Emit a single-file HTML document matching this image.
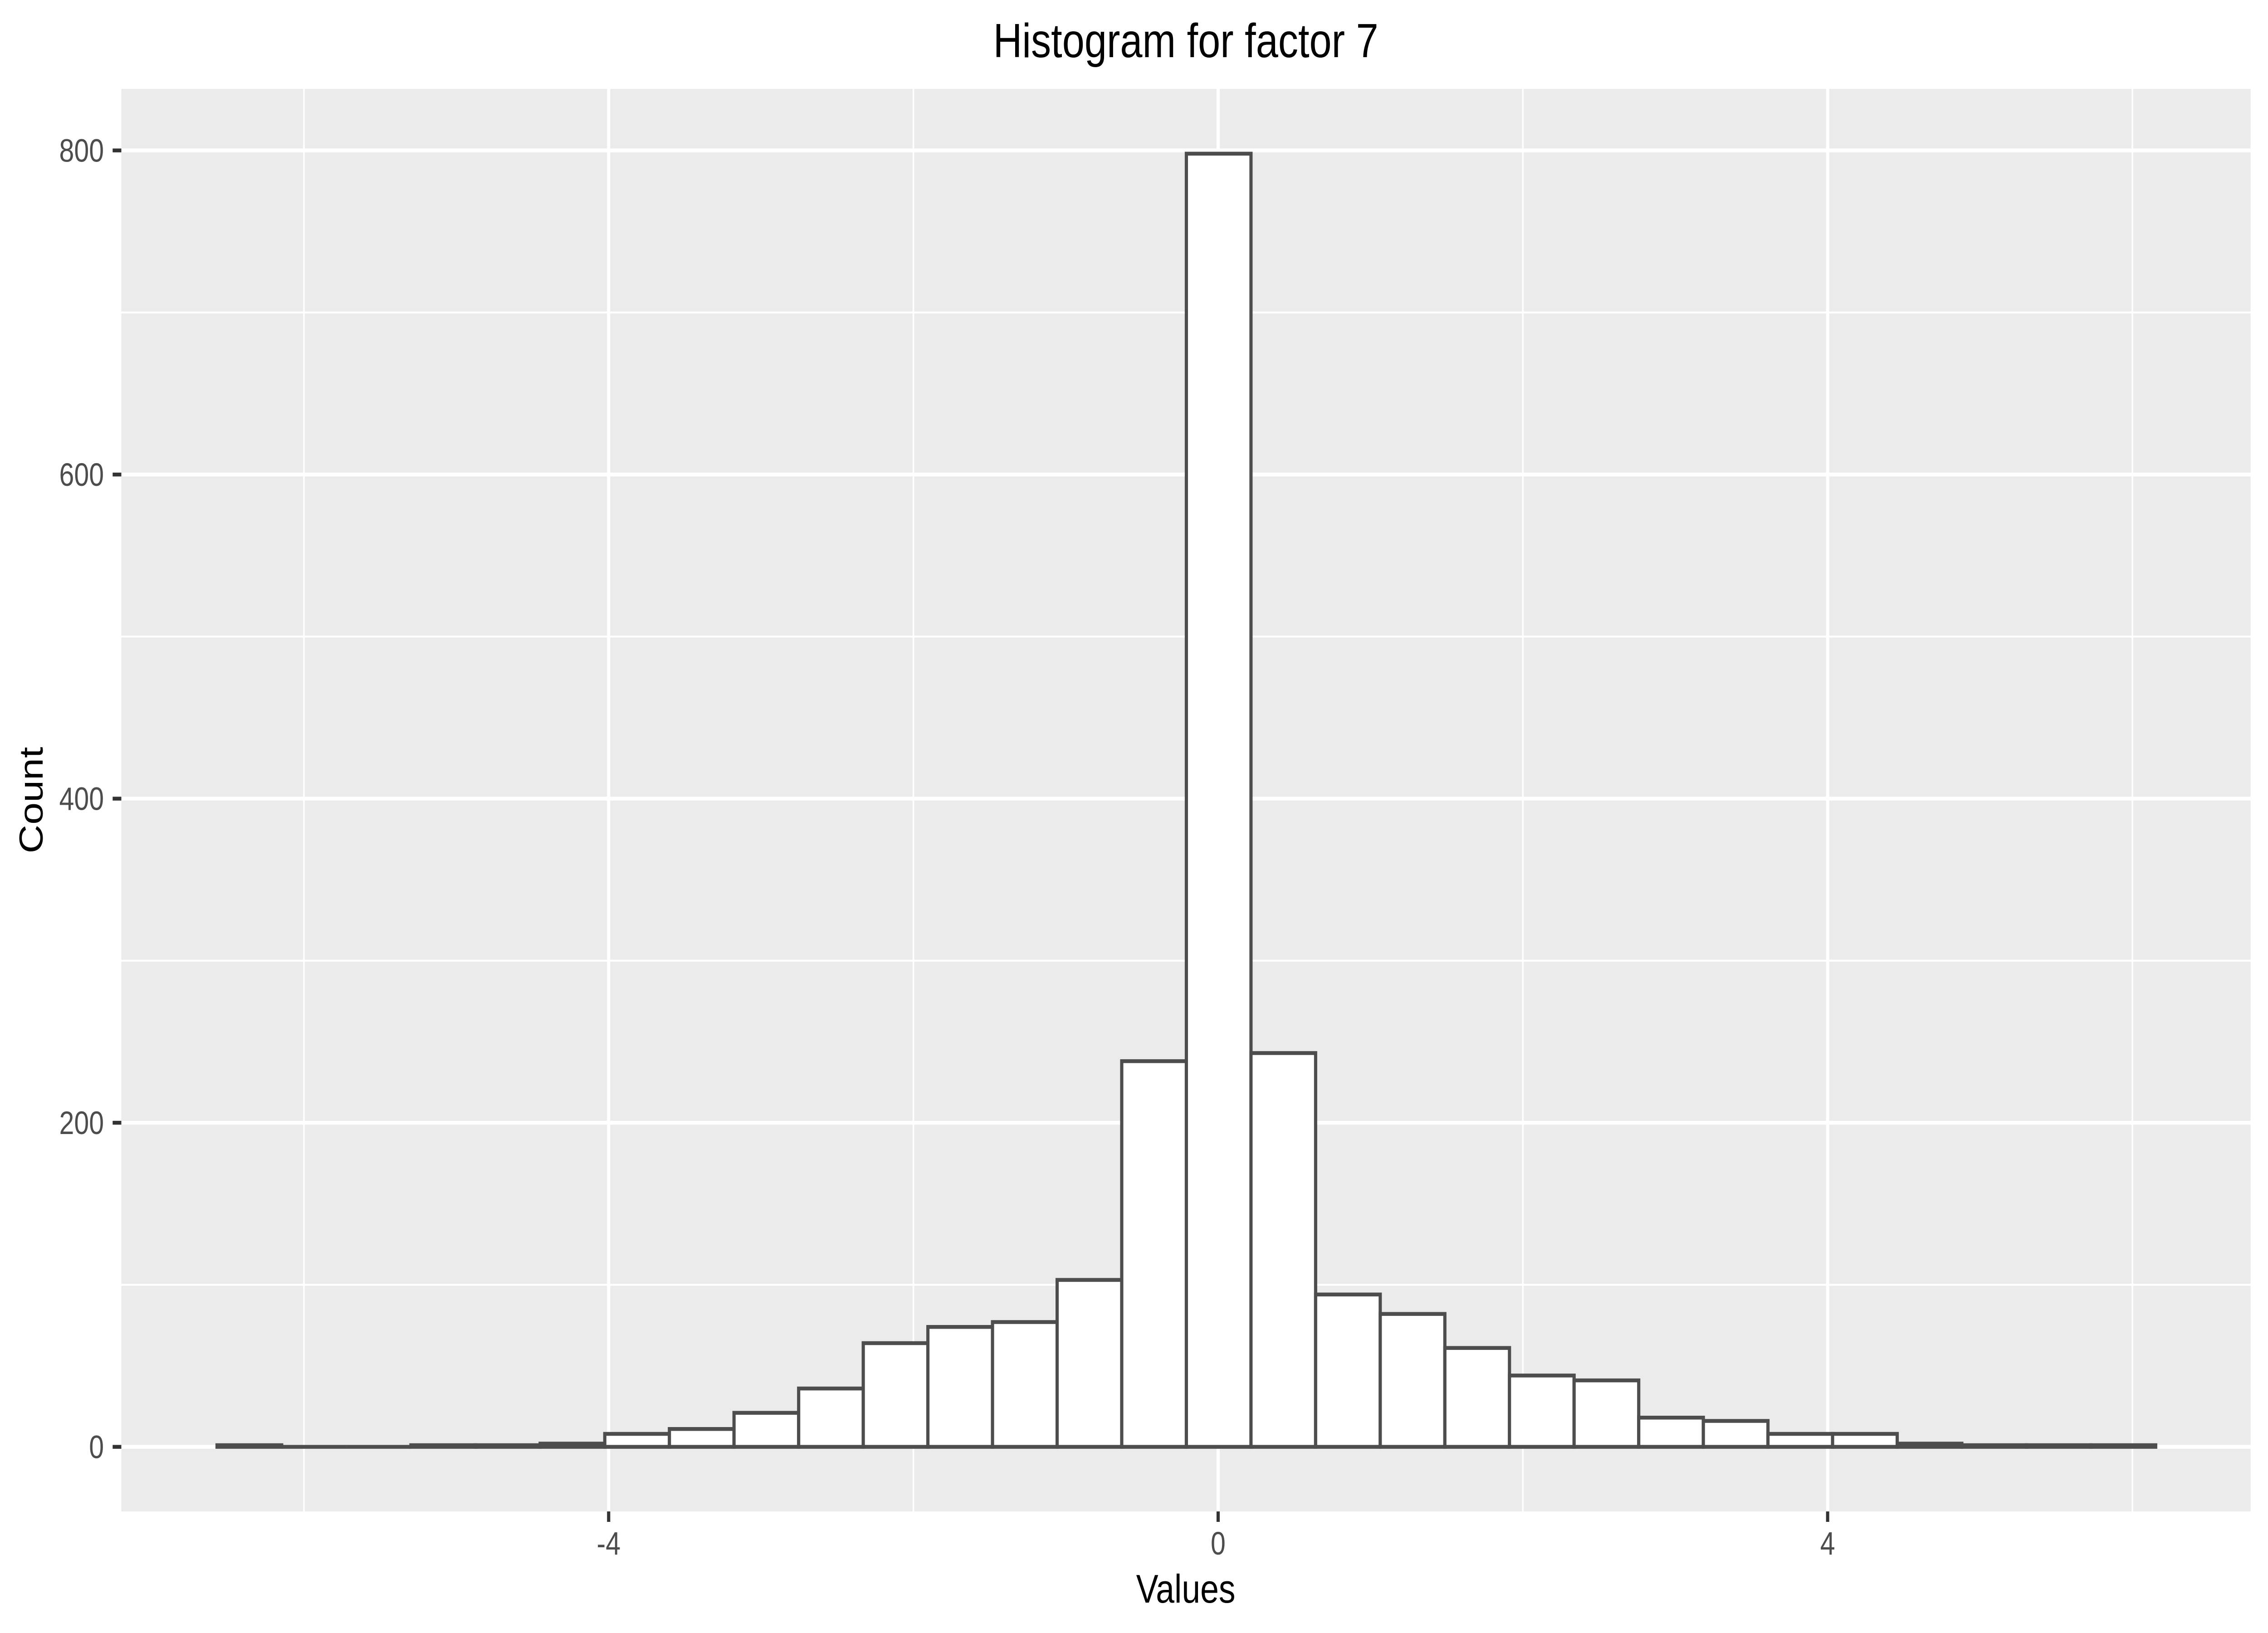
<!DOCTYPE html>
<html><head><meta charset="utf-8"><style>
html,body{margin:0;padding:0;background:#fff;overflow:hidden;width:100%;height:100%;}
svg{display:block;position:fixed;left:0;top:0;width:100vw;height:100vh;font-family:"Liberation Sans",Arial,sans-serif;}
</style></head><body>
<svg id="chart" viewBox="0 0 6000 3600" preserveAspectRatio="none" xmlns="http://www.w3.org/2000/svg">
<rect x="0" y="0" width="6000" height="3600" fill="#ffffff"/>
<rect x="321" y="196" width="5633" height="3136" fill="#ebebeb"/>
<g id="grid"></g>
<g id="bars"></g>
<g id="axes"></g>
<text x="3137" y="126" font-size="106" text-anchor="middle" fill="#000">Histogram for factor 7</text>
<text x="3137" y="3533" font-size="88" text-anchor="middle" fill="#000">Values</text>
<text x="113" y="1764" font-size="88" text-anchor="middle" fill="#000" transform="rotate(-90 113 1764)">Count</text>
</svg>
<script>
const binStart = -6.57;
const binWidth = 0.4241;
const counts = [1,0,0,1,1,2,8,11,21,36,64,74,77,103,238,798,243,94,82,61,44,41,18,16,8,8,2,1,1,1];
const xTicks = [-4,0,4];
const xTickLabels = ["-4","0","4"];
const xMinor = [-6,-2,2,6];
const yTicks = [0,200,400,600,800];
const yTickLabels = ["0","200","400","600","800"];
const yMinor = [100,300,500,700];

const PL=321, PR=5954, PT=196, PB=3332;
function xs(v){ return 3222.6 + v*403.1; }
function ys(v){ return 3189.6 - v*3.5725; }
const NS="http://www.w3.org/2000/svg";
function mk(tag, attrs, parent){
  const e=document.createElementNS(NS,tag);
  for(const k in attrs) e.setAttribute(k,attrs[k]);
  parent.appendChild(e); return e;
}
const grid=document.getElementById('grid');
const bars=document.getElementById('bars');
const axes=document.getElementById('axes');
yMinor.forEach(v=>{
  const l=mk('line',{x1:PL,x2:PR,y1:ys(v),y2:ys(v),stroke:'#ffffff','stroke-width':4.3},grid);
  
  
});
xMinor.forEach(v=>{
  const l=mk('line',{x1:xs(v),x2:xs(v),y1:PT,y2:PB,stroke:'#ffffff','stroke-width':4.3},grid);
  
  
});
yTicks.forEach((v,i)=>{
  const l=mk('line',{x1:PL,x2:PR,y1:ys(v),y2:ys(v),stroke:'#ffffff','stroke-width':8.5},grid);
  
  
  const t=mk('line',{x1:298,x2:PL,y1:ys(v),y2:ys(v),stroke:'#333333','stroke-width':8.5},axes);
  
  
  const tx=mk('text',{x:275,y:ys(v)+25,'font-size':71,'text-anchor':'end',fill:'#4d4d4d'},axes);
  tx.textContent=yTickLabels[i];
  
  
});
xTicks.forEach((v,i)=>{
  const l=mk('line',{x1:xs(v),x2:xs(v),y1:PT,y2:PB,stroke:'#ffffff','stroke-width':8.5},grid);
  
  
  const t=mk('line',{x1:xs(v),x2:xs(v),y1:PB,y2:3355,stroke:'#333333','stroke-width':8.5},axes);
  
  
  const tx=mk('text',{x:xs(v),y:3427,'font-size':71,'text-anchor':'middle',fill:'#4d4d4d'},axes);
  tx.textContent=xTickLabels[i];
  
  
});
counts.forEach((c,i)=>{
  const x0=xs(binStart+i*binWidth), x1=xs(binStart+(i+1)*binWidth);
  const y0=ys(c), y1=ys(0);
  const d='M'+x0+' '+y1+' L'+x0+' '+y0+' L'+x1+' '+y0+' L'+x1+' '+y1+' Z';
  const r=mk('path',{d:d,fill:'#ffffff',stroke:'#4d4d4d','stroke-width':8.5,'stroke-linejoin':'miter'},bars);
  
  
});
</script>
</body></html>
